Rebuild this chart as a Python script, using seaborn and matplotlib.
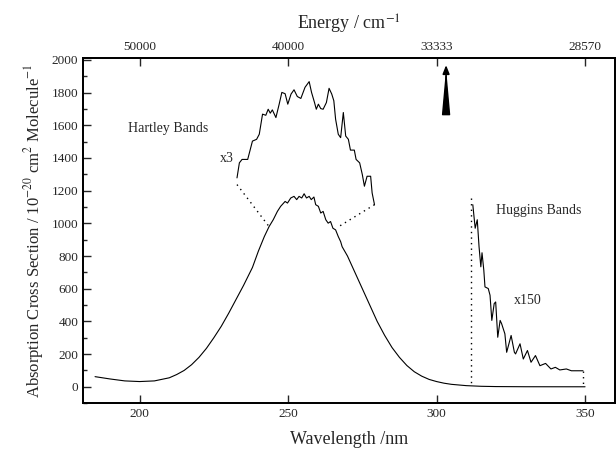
import seaborn as sns
import matplotlib.pyplot as plt
import pandas as pd

# Main O3 absorption curve (nm, 10^-20 cm^2)
wavelength = [185, 190, 195, 200, 205, 210, 212.5, 215, 217.5, 220, 222.5, 225, 227.5,
              230, 232.5, 235, 236.5, 238, 240, 242,
              243.6, 245, 246.4, 247.5, 249, 249.8, 250.9, 252, 252.9, 253.7, 254.6,
              255.4, 256.2, 257.1, 257.8, 258.7, 259.3, 260.2, 261, 261.8, 262.7,
              263.5, 264.3, 265.1, 266, 266.9, 267.7, 268.2, 270, 272.5, 275, 277.5,
              280, 282.5, 285, 287.5, 290, 292.5, 295, 297.5, 300, 302.5, 305, 310,
              315, 320, 330, 340, 350]
cross_section = [62, 48, 36, 32, 36, 55, 75, 100, 135, 180, 235, 300, 370,
                 450, 535, 620, 675, 730, 830, 919,
                 980, 1022, 1073, 1104, 1134, 1124, 1155, 1165, 1145, 1165, 1155,
                 1181, 1155, 1165, 1145, 1161, 1114, 1104, 1063, 1073, 1022,
                 1001, 1011, 970, 960, 919, 888, 857, 800, 700, 600, 500,
                 400, 315, 240, 180, 130, 92, 65, 45, 32, 22, 15, 7,
                 3, 1.3, 0.3, 0.1, 0.02]

# Hartley bands, x3 blow-up (drawn in place)
hartley_wl = [232.8, 233.6, 234.5, 236.4, 238.0, 239.4, 240.3, 241.4, 242.5, 243.3,
              244.0, 244.7, 245.9, 247.0, 247.9, 249.0, 249.9, 251.0, 252.0, 253.1,
              254.3, 255.7, 257.1, 257.9, 258.9, 259.5, 260.2, 261.0, 261.8, 262.9,
              263.8, 264.7, 265.4, 266.0, 266.9, 267.7, 268.6, 269.4, 270.3, 271.0,
              272.3, 272.9, 274.1, 275.0, 275.7, 276.6, 277.8, 278.3, 279.1]
hartley_val = [1278, 1370, 1391, 1391, 1503, 1514, 1545, 1668, 1661, 1698,
               1674, 1694, 1647, 1729, 1801, 1793, 1729, 1791, 1817, 1776,
               1764, 1832, 1867, 1801, 1739, 1698, 1729, 1702, 1698, 1739,
               1826, 1791, 1750, 1637, 1545, 1524, 1678, 1534, 1514, 1448,
               1448, 1391, 1370, 1298, 1227, 1288, 1288, 1186, 1114]

# Huggins bands, x150 blow-up
huggins_wl = [312.2, 313.0, 313.7, 314.3, 314.9, 315.3, 315.9, 316.3, 317.4, 318.0,
              318.6, 319.4, 319.9, 320.6, 321.4, 321.9, 323.0, 323.6, 325.1, 326.2,
              326.6, 328.1, 329.2, 330.6, 331.8, 333.3, 334.8, 336.7, 338.5, 340.0,
              341.5, 343.7, 345.4, 349.3]
huggins_val = [1114, 970, 1022, 857, 734, 820, 714, 611, 601, 560,
               406, 509, 519, 303, 406, 386, 324, 211, 314, 211,
               201, 263, 170, 222, 150, 191, 129, 143, 109, 119,
               103, 109, 98, 98]

wl_ticks = [200, 250, 300, 350]
energy_labels = ['50000', '40000', '33333', '28570']

sns.set_style('ticks')
plt.rcParams['font.family'] = ['Liberation Serif', 'DejaVu Serif']
plt.rcParams['mathtext.fontset'] = 'stix'

fig = plt.figure(figsize=(6.16, 4.55), dpi=100)
ax = fig.add_axes([0.135, 0.114, 0.863, 0.758])

main = pd.DataFrame({'wl': wavelength, 'sigma': cross_section})
sns.lineplot(data=main, x='wl', y='sigma', ax=ax, color='black', lw=0.8)
sns.lineplot(x=hartley_wl, y=hartley_val, ax=ax, color='black', lw=0.8)
sns.lineplot(x=huggins_wl, y=huggins_val, ax=ax, color='black', lw=0.8)

dot = dict(color='black', lw=1.0, ls=(0, (1, 3)))
ax.plot([hartley_wl[0], 243.6], [1237, 980], **dot)
ax.plot([hartley_wl[-1], 266.6], [hartley_val[-1], 975], **dot)
ax.plot([311.5, 311.5], [1155, 6], **dot)
ax.plot([349.3, 349.3], [huggins_val[-1], 0], **dot)

# arrow marking 300 nm: tapered shaft, widest at the bottom, small head on top
ax.annotate('', xy=(303.2, 1900), xytext=(303.2, 1665),
            arrowprops=dict(arrowstyle='wedge,tail_width=0.5,shrink_factor=0.5',
                            color='black', shrinkA=0, shrinkB=0))
ax.annotate('', xy=(303.2, 1968), xytext=(303.2, 1880),
            arrowprops=dict(arrowstyle='-|>,head_width=0.2,head_length=0.5',
                            color='black', lw=1.2, shrinkA=0, shrinkB=0))

ax.text(196, 1560, 'Hartley Bands', fontsize=10)
ax.text(227, 1375, 'x3', fontsize=10)
ax.text(320, 1060, 'Huggins Bands', fontsize=10)
ax.text(326, 505, 'x150', fontsize=10)

ax.set_xlim(181, 360)
ax.set_ylim(-100, 2010)
ax.set_xticks(wl_ticks)
ax.set_yticks(range(0, 2001, 200))
ax.set_yticks(range(-100, 2001, 100), minor=True)
ax.tick_params(axis='both', direction='in', labelsize=9.5, length=6, width=1)
ax.tick_params(axis='y', which='minor', direction='in', length=3, width=1)
ax.tick_params(axis='y', right=False)
ax.set_xlabel('Wavelength /nm', fontsize=13, labelpad=8)
ax.set_ylabel('Absorption Cross Section / 10$^{-20}$ cm$^{2}$ Molecule$^{-1}$',
              fontsize=12, labelpad=4)

top = ax.twiny()
top.set_xlim(ax.get_xlim())
top.set_xticks(wl_ticks)
top.set_xticklabels(energy_labels)
top.tick_params(axis='x', direction='in', labelsize=9.5, length=6, width=1, pad=4)
top.set_xlabel('Energy / cm$^{-1}$', fontsize=13, labelpad=8)

for a in (ax, top):
    for s in a.spines.values():
        s.set_linewidth(1.3)
        s.set_color('black')

fig.savefig('out.png', dpi=100)
